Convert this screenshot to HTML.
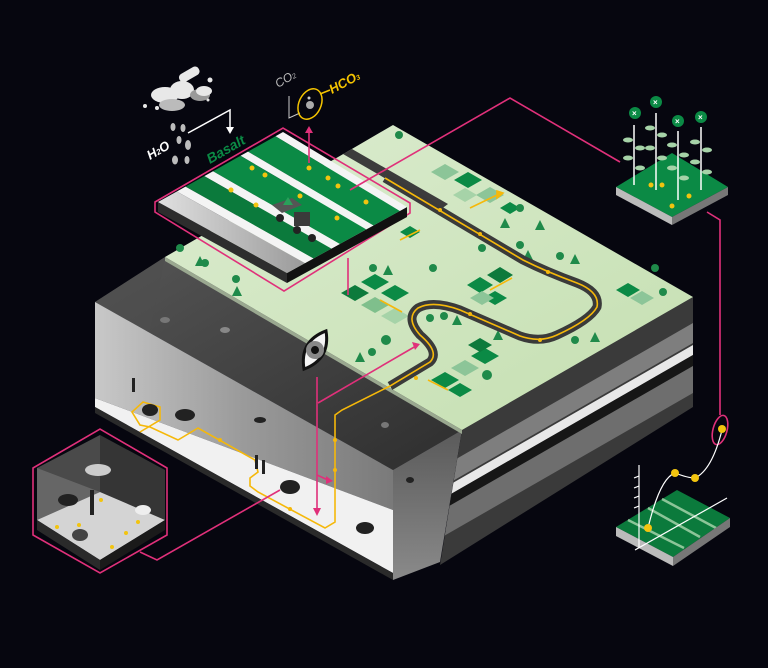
<!DOCTYPE html>
<html><head><meta charset="utf-8"><style>
html,body{margin:0;padding:0;background:#06060f;width:768px;height:668px;overflow:hidden;}
svg{display:block;}
text{font-family:"Liberation Sans",sans-serif;}
</style></head><body>
<svg width="768" height="668" viewBox="0 0 768 668" xmlns="http://www.w3.org/2000/svg">
<defs>
<linearGradient id="gTop" x1="0" y1="0" x2="1" y2="1"><stop offset="0" stop-color="#dcecd0"/><stop offset="1" stop-color="#c4dfb0"/></linearGradient>
<linearGradient id="gWall" x1="0" y1="0" x2="1" y2="0"><stop offset="0" stop-color="#c8c8c8"/><stop offset="0.5" stop-color="#9a9a9a"/><stop offset="1" stop-color="#7a7a7a"/></linearGradient>
<linearGradient id="gBack" x1="0" y1="0" x2="1" y2="1"><stop offset="0" stop-color="#555"/><stop offset="1" stop-color="#2e2e2e"/></linearGradient>
<linearGradient id="gPil" x1="0" y1="0" x2="0" y2="1"><stop offset="0" stop-color="#5a5a5a"/><stop offset="1" stop-color="#8a8a8a"/></linearGradient>
<linearGradient id="gGrey" x1="0" y1="0" x2="1" y2="0"><stop offset="0" stop-color="#e0e0e0"/><stop offset="1" stop-color="#9a9a9a"/></linearGradient>
<clipPath id="rf"><polygon points="462,430 693,297 693,407 440,565"/></clipPath>
</defs>
<rect width="768" height="668" fill="#06060f"/>

<polygon points="95,302 165,257 462,430 393,470" fill="url(#gBack)"/>
<polygon points="95,302 165,257 150,330 95,340" fill="#4e4e4e" opacity="0.6"/>
<polygon points="95,302 393,470 393,510 95,398" fill="url(#gWall)"/>
<polygon points="95,398 393,510 393,573 95,407" fill="#f1f1f1"/>
<polygon points="95,407 393,573 393,580 95,413" fill="#2a2a2a"/>
<polygon points="462,430 440,562 393,580 393,470" fill="url(#gPil)"/>
<g clip-path="url(#rf)">
<polygon points="440,0 700,-150 700,800 440,900" fill="#3a3a3a"/>
<polygon points="430,474 700,319 700,339 430,494" fill="#7e7e7e"/>
<polygon points="430,496 700,341 700,351 430,506" fill="#e8e8e8"/>
<polygon points="430,506 700,351 700,362 430,517" fill="#161616"/>
<polygon points="430,517 700,362 700,389 430,544" fill="#6e6e6e"/>
</g>
<polygon points="165,257 345,153 393,125 693,297 462,430" fill="url(#gTop)"/>
<polygon points="165,257 462,430 462,434 165,261" fill="#9aa890"/>
<polygon points="343,154 352,149 448,204 440,210" fill="#3c3c3c"/>

<g>
<polygon points="341,293 355,285 369,293 355,301" fill="#0d7a3c"/>
<polygon points="361,282 375,274 389,282 375,290" fill="#0b8a45"/>
<polygon points="361,305 375,297 389,305 375,313" fill="#7fbf8c"/>
<polygon points="381,293 395,285 409,293 395,301" fill="#0b8a45"/>
<polygon points="381,316 395,308 409,316 395,324" fill="#a6d3a8"/>
<polygon points="467,285 480,277 493,285 480,293" fill="#0b8a45"/>
<polygon points="487,275 500,267 513,275 500,283" fill="#0d7a3c"/>
<polygon points="483,298 495,291 507,298 495,305" fill="#0b8a45"/>
<polygon points="470,298 482,291 494,298 482,305" fill="#8cc598"/>
<polygon points="431,380 445,372 459,380 445,388" fill="#0b8a45"/>
<polygon points="451,368 465,360 479,368 465,376" fill="#8cc598"/>
<polygon points="471,356 485,348 499,356 485,364" fill="#0b8a45"/>
<polygon points="468,345 480,338 492,345 480,352" fill="#0d7a3c"/>
<polygon points="448,390 460,383 472,390 460,397" fill="#0b8a45"/>
<polygon points="616,290 628,283 640,290 628,297" fill="#0b8a45"/>
<polygon points="630,298 642,291 654,298 642,305" fill="#8cc598"/>
<polygon points="431,172 445,164 459,172 445,180" fill="#8cc598"/>
<polygon points="454,180 468,172 482,180 468,188" fill="#0b8a45"/>
<polygon points="476,195 490,187 504,195 490,203" fill="#8cc598"/>
<polygon points="453,195 465,188 477,195 465,202" fill="#a6d3a8"/>
<polygon points="500,208 510,202 520,208 510,214" fill="#0b8a45"/>
<polygon points="400,232 410,226 420,232 410,238" fill="#0b8a45"/>
</g>
<g fill="#1f8a4a">
<circle cx="180" cy="248" r="4"/><circle cx="205" cy="263" r="4"/><circle cx="236" cy="279" r="4"/>
<polygon points="195,266 200,256 205,266"/><polygon points="232,296 237,286 242,296"/>
<circle cx="373" cy="268" r="4"/><polygon points="383,275 388,265 393,275"/><circle cx="433" cy="268" r="4"/>
<circle cx="372" cy="352" r="4"/><circle cx="386" cy="340" r="5"/><polygon points="355,362 360,352 365,362"/>
<circle cx="430" cy="318" r="4"/><circle cx="444" cy="316" r="4"/><polygon points="452,325 457,315 462,325"/>
<circle cx="520" cy="245" r="4"/><circle cx="560" cy="256" r="4"/><polygon points="570,264 575,254 580,264"/>
<circle cx="575" cy="340" r="4"/><polygon points="590,342 595,332 600,342"/><circle cx="655" cy="268" r="4"/><circle cx="663" cy="292" r="4"/>
<polygon points="523,260 528,250 533,260"/><circle cx="482" cy="248" r="4"/><polygon points="535,230 540,220 545,230"/>
<circle cx="520" cy="208" r="4"/><polygon points="500,228 505,218 510,228"/><circle cx="487" cy="375" r="5"/>
<circle cx="399" cy="135" r="4"/><circle cx="515" cy="334" r="4"/><polygon points="493,340 498,330 503,340"/>
</g>
<path d="M385,178 L523,260 Q547,272 577,283 Q600,292 597,307 Q590,320 557,335 Q540,343 520,336 L460,310 Q433,300 418,308 Q405,318 420,335 Q440,352 430,362 L390,386" fill="none" stroke="#3a3a3a" stroke-width="9" stroke-linejoin="round"/>
<path d="M385,178 L523,260 Q547,272 577,283 Q600,292 597,307 Q590,320 557,335 Q540,343 520,336 L460,310 Q433,300 418,308 Q405,318 420,335 Q440,352 430,362 L390,386 L342,410 L335,415 L335,522 L325,528 L258,492 L250,486 L250,478 L258,472 L255,460 L198,428 L178,440 L150,427 L140,425 L132,412 L143,402 L160,407 L160,420 L140,432" fill="none" stroke="#f5b80a" stroke-width="1.6"/>
<g fill="#f5b80a"><circle cx="440" cy="210" r="2"/><circle cx="480" cy="234" r="2"/><circle cx="548" cy="272" r="2"/><circle cx="540" cy="340" r="2"/><circle cx="470" cy="314" r="2"/><circle cx="416" cy="378" r="2"/><circle cx="335" cy="440" r="2"/><circle cx="335" cy="470" r="2"/><circle cx="290" cy="509" r="2"/><circle cx="220" cy="440" r="2"/></g>
<g stroke="#f5b80a" stroke-width="1.6" fill="#f5b80a">
<line x1="470" y1="208" x2="497" y2="195"/><polygon points="497,191 503,193 497,198"/>
<line x1="400" y1="240" x2="420" y2="230"/><line x1="380" y1="300" x2="402" y2="312"/>
<line x1="490" y1="290" x2="512" y2="278"/><line x1="448" y1="390" x2="428" y2="380"/>
</g>
<g fill="#222">
<ellipse cx="150" cy="410" rx="8" ry="6"/><ellipse cx="185" cy="415" rx="10" ry="6"/>
<ellipse cx="290" cy="487" rx="10" ry="7"/><ellipse cx="365" cy="528" rx="9" ry="6"/>
<rect x="132" y="378" width="3" height="14"/><rect x="255" y="455" width="3" height="14"/><rect x="262" y="460" width="3" height="14"/>
<ellipse cx="260" cy="420" rx="6" ry="3"/><ellipse cx="225" cy="330" rx="5" ry="3" fill="#888"/><ellipse cx="165" cy="320" rx="5" ry="3" fill="#777"/>
<ellipse cx="385" cy="425" rx="4" ry="3" fill="#777"/><ellipse cx="410" cy="480" rx="4" ry="3"/>
</g>

<polygon points="155,202 283,128 410,203 410,213 284,291 155,212" fill="none" stroke="#e0307a" stroke-width="1.6"/>
<polygon points="158,202 287,273 287,283 158,212" fill="#2d2d2d"/>
<polygon points="287,273 407,207 407,217 287,283" fill="#111"/>
<polygon points="283,132 407,207 399.8,211 275.5,136.2" fill="#f4f4f4"/>
<polygon points="275.5,136.2 399.8,211 373.4,225.5 248,151.6" fill="#0b8a45"/>
<polygon points="248,151.6 373.4,225.5 366.2,229.4 240.5,155.8" fill="#f4f4f4"/>
<polygon points="240.5,155.8 366.2,229.4 339.8,244 213,171.2" fill="#0b8a45"/>
<polygon points="213,171.2 339.8,244 331.4,248.6 204.3,176.1" fill="#f4f4f4"/>
<polygon points="204.3,176.1 331.4,248.6 313.4,258.5 185.5,186.6" fill="#0b7a3c"/>
<polygon points="185.5,186.6 313.4,258.5 305,263.1 176.8,191.5" fill="#f4f4f4"/>
<polygon points="176.8,191.5 305,263.1 287,273 158,202" fill="url(#gGrey)"/>
<g fill="#f2c40f"><circle cx="252" cy="168" r="2.5"/><circle cx="265" cy="175" r="2.5"/><circle cx="309" cy="168" r="2.5"/><circle cx="328" cy="178" r="2.5"/><circle cx="338" cy="186" r="2.5"/><circle cx="231" cy="190" r="2.5"/><circle cx="256" cy="205" r="2.5"/><circle cx="300" cy="196" r="2.5"/><circle cx="366" cy="202" r="2.5"/><circle cx="337" cy="218" r="2.5"/></g>
<g fill="#555"><polygon points="272,205 292,198 302,205 282,213"/><rect x="294" y="212" width="16" height="14" fill="#3a3a3a"/><circle cx="297" cy="230" r="4" fill="#222"/><circle cx="312" cy="238" r="4" fill="#222"/><circle cx="280" cy="218" r="4" fill="#222"/><polygon points="283,205 288,197 293,205" fill="#2aa05a"/></g>

<g fill="#e8e8e8">
<rect x="178" y="70" width="22" height="9" rx="4" transform="rotate(-30 189 74)"/>
<ellipse cx="165" cy="95" rx="14" ry="8"/><ellipse cx="182" cy="90" rx="12" ry="9"/><ellipse cx="172" cy="105" rx="13" ry="6" fill="#bbb"/>
<ellipse cx="200" cy="95" rx="10" ry="6" fill="#999"/><ellipse cx="204" cy="91" rx="8" ry="5"/>
<circle cx="145" cy="106" r="2"/><circle cx="157" cy="108" r="2"/><circle cx="210" cy="80" r="2.5"/><circle cx="208" cy="100" r="1.5"/>
</g>
<g fill="#bcbcbc"><ellipse cx="183" cy="128" rx="2.5" ry="4"/><ellipse cx="173" cy="127" rx="2.5" ry="4"/><ellipse cx="179" cy="140" rx="2.5" ry="4"/><ellipse cx="188" cy="145" rx="3" ry="5"/><ellipse cx="175" cy="160" rx="3" ry="4.5"/><ellipse cx="187" cy="160" rx="2.5" ry="4"/></g>
<polyline points="188,133 230,110 230,128" fill="none" stroke="#fff" stroke-width="1.5"/>
<polygon points="226,127 234,127 230,134" fill="#fff"/>
<text x="150" y="160" fill="#fff" font-size="13" font-weight="bold" font-style="italic" transform="rotate(-30 150 160)">H<tspan font-size="8">2</tspan>O</text>
<text x="210" y="164" fill="#0b8a45" font-size="14" font-weight="bold" font-style="italic" transform="rotate(-30 210 164)">Basalt</text>
<text x="278" y="88" fill="#bbb" font-size="12" font-style="italic" transform="rotate(-30 278 88)">CO<tspan font-size="7">2</tspan></text>
<polyline points="289,96 289,118 300,113" fill="none" stroke="#ccc" stroke-width="1"/>
<ellipse cx="310" cy="104" rx="11" ry="16" fill="none" stroke="#f5c400" stroke-width="1.5" transform="rotate(25 310 104)"/>
<circle cx="310" cy="105" r="4" fill="#aaa"/><circle cx="309" cy="98" r="1.5" fill="#ccc"/>
<line x1="320" y1="94" x2="330" y2="90" stroke="#f5c400" stroke-width="1.5"/>
<text x="332" y="94" fill="#f5c400" font-size="13" font-weight="bold" font-style="italic" transform="rotate(-28 332 94)">HCO<tspan font-size="7">3</tspan></text>

<g stroke="#e0307a" stroke-width="1.6" fill="none">
<line x1="309" y1="163" x2="309" y2="132"/>
<polyline points="350,190 510,98 620,162"/>
<line x1="348" y1="258" x2="348" y2="295"/>
<polyline points="707,212 720,220 720,415"/>
<ellipse cx="720" cy="430" rx="7" ry="15" transform="rotate(15 720 430)"/>
<line x1="317" y1="377" x2="317" y2="510"/>
<polyline points="318,403 416,346"/>
<polyline points="317,475 328,480"/>
<polyline points="140,552 157,560 280,490"/>
<polygon points="33,468 100,429 167,468 167,535 100,573 33,535"/>
</g>
<g fill="#e0307a"><polygon points="305,133 313,133 309,126"/><polygon points="313,508 321,508 317,516"/><polygon points="412,342 420,344 415,350"/><polygon points="326,476 333,481 326,484"/></g>

<g transform="translate(315,350) rotate(-60)">
<path d="M-22,0 Q0,-18 22,0 Q0,18 -22,0Z" fill="#f4f4f4" stroke="#111" stroke-width="3"/>
<circle r="9" fill="#888"/><circle r="4" fill="#111"/>
</g>

<polygon points="37,468 100,435 100,492 37,520" fill="#4a4a4a"/>
<polygon points="100,435 165,470 165,520 100,492" fill="#353535"/>
<polygon points="37,468 100,492 37,520" fill="#7a7a7a" opacity="0.6"/>
<polygon points="37,520 100,492 165,520 100,560" fill="#d4d4d4"/>
<polygon points="37,520 100,560 100,570 37,530" fill="#2a2a2a"/>
<polygon points="100,560 165,520 165,530 100,570" fill="#1a1a1a"/>
<ellipse cx="98" cy="470" rx="13" ry="6" fill="#ccc"/>
<ellipse cx="68" cy="500" rx="10" ry="6" fill="#222"/><ellipse cx="143" cy="510" rx="8" ry="5" fill="#eee"/>
<rect x="90" y="490" width="4" height="25" fill="#222"/><ellipse cx="80" cy="535" rx="8" ry="6" fill="#444"/>
<g fill="#f2c40f"><circle cx="101" cy="500" r="2"/><circle cx="79" cy="525" r="2"/><circle cx="57" cy="527" r="2"/><circle cx="112" cy="547" r="2"/><circle cx="126" cy="533" r="2"/><circle cx="138" cy="522" r="2"/></g>

<polygon points="616,187 672,153 728,187 672,217" fill="#0b8a45"/>
<polygon points="616,187 672,217 672,225 616,195" fill="#bbb"/>
<polygon points="672,217 728,187 728,195 672,225" fill="#777"/>
<g stroke="#fff" stroke-width="1.5"><line x1="634" y1="185" x2="634" y2="125"/><line x1="656" y1="190" x2="656" y2="113"/><line x1="678" y1="200" x2="678" y2="131"/><line x1="701" y1="190" x2="701" y2="127"/></g>
<g fill="#a6d3a8"><ellipse cx="628" cy="140" rx="5" ry="2.5"/><ellipse cx="640" cy="148" rx="5" ry="2.5"/><ellipse cx="628" cy="158" rx="5" ry="2.5"/><ellipse cx="640" cy="168" rx="5" ry="2.5"/><ellipse cx="650" cy="128" rx="5" ry="2.5"/><ellipse cx="662" cy="135" rx="5" ry="2.5"/><ellipse cx="650" cy="148" rx="5" ry="2.5"/><ellipse cx="662" cy="158" rx="5" ry="2.5"/><ellipse cx="672" cy="145" rx="5" ry="2.5"/><ellipse cx="684" cy="155" rx="5" ry="2.5"/><ellipse cx="672" cy="168" rx="5" ry="2.5"/><ellipse cx="684" cy="178" rx="5" ry="2.5"/><ellipse cx="695" cy="142" rx="5" ry="2.5"/><ellipse cx="707" cy="150" rx="5" ry="2.5"/><ellipse cx="695" cy="162" rx="5" ry="2.5"/><ellipse cx="707" cy="172" rx="5" ry="2.5"/></g>
<g fill="#0b8a45"><circle cx="635" cy="113" r="6"/><circle cx="656" cy="102" r="6"/><circle cx="678" cy="121" r="6"/><circle cx="701" cy="117" r="6"/></g>
<g fill="#fff" font-size="8" font-weight="bold"><text x="632" y="116">×</text><text x="653" y="105">×</text><text x="675" y="124">×</text><text x="698" y="120">×</text></g>
<g fill="#f2c40f"><circle cx="651" cy="185" r="2.5"/><circle cx="662" cy="185" r="2.5"/><circle cx="689" cy="196" r="2.5"/><circle cx="672" cy="206" r="2.5"/></g>

<polygon points="616,527 677,490 730,518 673,557" fill="#0b7a3c"/>
<g stroke="#8cc598" stroke-width="2.5"><line x1="628" y1="520" x2="684" y2="548"/><line x1="648" y1="508" x2="700" y2="537"/><line x1="662" y1="499" x2="716" y2="528"/></g>
<polygon points="616,527 673,557 673,566 616,536" fill="#bbb"/>
<polygon points="673,557 730,518 730,527 673,566" fill="#777"/>
<g stroke="#fff" stroke-width="1.2" fill="none">
<line x1="639" y1="465" x2="639" y2="548"/><line x1="635" y1="550" x2="727" y2="498"/>
<path d="M648,528 Q660,478 675,473 Q688,478 695,478 Q712,470 722,430"/>
<line x1="634" y1="478" x2="639" y2="476"/><line x1="634" y1="488" x2="639" y2="486"/><line x1="634" y1="498" x2="639" y2="496"/><line x1="634" y1="508" x2="639" y2="506"/>
</g>
<g fill="#f2c40f"><circle cx="648" cy="528" r="4"/><circle cx="675" cy="473" r="4"/><circle cx="695" cy="478" r="4"/><circle cx="722" cy="429" r="4"/></g>
</svg>
</body></html>
